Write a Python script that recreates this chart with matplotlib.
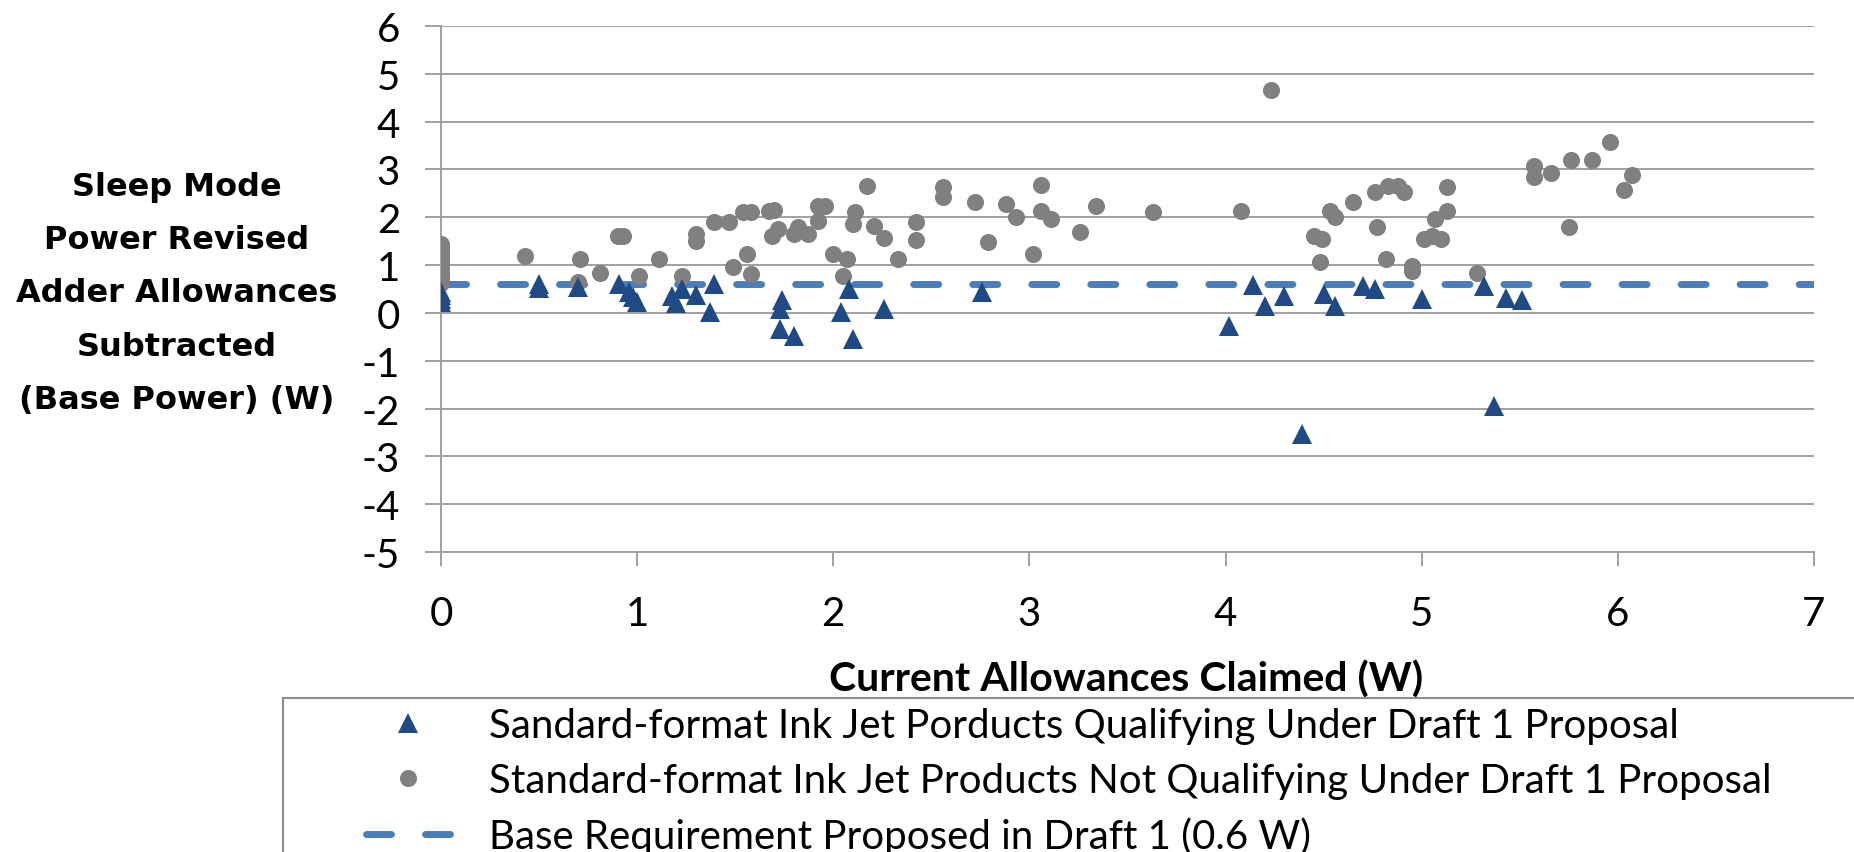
import matplotlib
matplotlib.use("Agg")
import matplotlib.pyplot as plt
from matplotlib.patches import Rectangle

# ---- data ----
qual_x = [0, 0, 0, 0, 0.50, 0.50, 0.70, 0.91, 0.96, 0.98, 1.00, 1.18, 1.20, 1.23, 1.30,
          1.39, 1.37, 1.74, 1.73, 1.73, 1.80, 2.04, 2.08, 2.10, 2.26, 2.76,
          4.02, 4.14, 4.20, 4.30, 4.39, 4.50, 4.56, 4.70, 4.76, 5.00, 5.32, 5.37, 5.43, 5.51]
qual_y = [0.22, 0.30, 0.37, 0.43, 0.60, 0.52, 0.54, 0.60, 0.43, 0.33, 0.22, 0.36, 0.20, 0.50, 0.38,
          0.60, 0.02, 0.27, 0.08, -0.33, -0.48, 0.02, 0.50, -0.54, 0.08, 0.44,
          -0.27, 0.59, 0.15, 0.35, -2.53, 0.40, 0.14, 0.57, 0.50, 0.30, 0.57, -1.94, 0.31, 0.27]

notq_x = [0, 0, 0, 0, 0, 0, 0, 0, 0, 0, 0, 0,
          0.43, 0.71, 0.70, 0.81, 0.90, 0.93, 1.01, 1.11, 1.23, 1.30, 1.30, 1.39, 1.47,
          1.54, 1.58, 1.67, 1.70, 1.69, 1.72, 1.49, 1.56, 1.58, 1.80, 1.82, 1.87, 1.92,
          1.96, 1.92, 2.11, 2.10, 2.17, 2.00, 2.07, 2.05, 2.21, 2.26, 2.33, 2.42, 2.42,
          2.56, 2.56, 2.72, 2.79, 2.88, 2.93, 3.02, 3.06, 3.06, 3.11, 3.26, 3.34, 3.63,
          4.08, 4.23, 4.45, 4.49, 4.48, 4.53, 4.56, 4.65, 4.76, 4.83, 4.88, 4.91, 4.77,
          4.82, 4.95, 4.95, 5.01, 5.05, 5.10, 5.07, 5.13, 5.13, 5.28, 5.57, 5.57, 5.66,
          5.76, 5.75, 5.87, 5.96, 6.03, 6.07]
notq_y = [1.45, 1.38, 1.30, 1.22, 1.15, 1.08, 1.00, 0.92, 0.85, 0.78, 0.70, 0.62,
          1.20, 1.13, 0.64, 0.84, 1.61, 1.61, 0.78, 1.13, 0.78, 1.50, 1.65, 1.91, 1.91,
          2.11, 2.11, 2.13, 2.15, 1.61, 1.76, 0.96, 1.23, 0.82, 1.65, 1.80, 1.65, 2.24,
          2.24, 1.93, 2.11, 1.86, 2.65, 1.23, 1.13, 0.78, 1.82, 1.56, 1.13, 1.90, 1.52,
          2.63, 2.42, 2.32, 1.48, 2.28, 2.00, 1.23, 2.68, 2.13, 1.97, 1.69, 2.24, 2.11,
          2.13, 4.67, 1.61, 1.55, 1.07, 2.13, 2.00, 2.32, 2.53, 2.65, 2.65, 2.53, 1.80,
          1.12, 0.98, 0.88, 1.55, 1.61, 1.55, 1.97, 2.14, 2.63, 0.84, 3.07, 2.84, 2.92,
          3.20, 1.80, 3.20, 3.57, 2.58, 2.89]

base_x = [0, 7]
base_y = [0.6, 0.6]

labels = ["Sandard-format Ink Jet Porducts Qualifying Under Draft 1 Proposal",
          "Standard-format Ink Jet Products Not Qualifying Under Draft 1 Proposal",
          "Base Requirement Proposed in Draft 1 (0.6 W)"]
xticks = [0, 1, 2, 3, 4, 5, 6, 7]
yticks = [-5, -4, -3, -2, -1, 0, 1, 2, 3, 4, 5, 6]
xlabel = "Current Allowances Claimed (W)"
ylabel = "Sleep Mode\nPower Revised\nAdder Allowances\nSubtracted\n(Base Power) (W)"

# ---- style ----
W, H = 1854, 853
GRID = "#a0a0a0"
TRI = "#1F4A86"
GREY = "#808080"
DASH = "#4A7EBB"
FONT = ["Lato", "DejaVu Sans"]

fig = plt.figure(figsize=(W / 100, H / 100), dpi=100)
ax = fig.add_axes([441 / W, 1 - 553 / H, (1814 - 441) / W, (553 - 27) / H])

ln_base, = ax.plot(base_x, base_y, color=DASH, lw=5, dashes=(3.6, 4.9),
                   dash_capstyle="round", solid_capstyle="round", zorder=2,
                   label=labels[2])
ln_notq, = ax.plot(notq_x, notq_y, linestyle="none", marker="o", markersize=12.3,
                   color=GREY, markeredgewidth=0, zorder=3, label=labels[1])
ln_qual, = ax.plot(qual_x, qual_y, linestyle="none", marker="^", markersize=15,
                   color=TRI, markeredgewidth=0, zorder=4, label=labels[0])

ax.set_xlim(0, 7)
ax.set_ylim(-5, 6)
ax.set_xticks(xticks)
ax.set_yticks(yticks)
ax.set_xticklabels([str(v) for v in xticks], family=FONT, fontsize=29)
ax.set_yticklabels([str(v) for v in yticks], family=FONT, fontsize=29)
ax.yaxis.grid(True, color=GRID, lw=1.4)
ax.xaxis.grid(False)
ax.set_axisbelow(True)
for s in ["top", "right"]:
    ax.spines[s].set_visible(False)
for s in ["left", "bottom"]:
    ax.spines[s].set_color(GRID)
    ax.spines[s].set_linewidth(1.4)
ax.tick_params(axis="y", direction="out", length=11.5, width=1.4, color=GRID, pad=18)
ax.tick_params(axis="x", direction="out", length=10, width=1.4, color=GRID, pad=21)

ax.set_xlabel(xlabel, family=FONT, fontweight="bold", fontsize=29.5, va="center")
ax.xaxis.set_label_coords(0.499, (553 - 680) / (553 - 27))
ax.set_ylabel(ylabel, family=["DejaVu Sans"], fontweight="bold", fontsize=23,
              rotation=0, ha="center", va="center", linespacing=1.92)
ax.yaxis.set_label_coords((177 - 441) / (1814 - 441), (553 - 294) / (553 - 27))

# legend frame (extends past figure edge as in reference)
frame = Rectangle((283 / W, -0.2), 1.2, 0.2 + (1 - 699 / H), transform=fig.transFigure,
                  fill=False, edgecolor="#8c8c8c", lw=1.5, clip_on=False)
fig.add_artist(frame)

leg = ax.legend(handles=[ln_qual, ln_notq, ln_base], labels=labels,
                loc="upper left", bbox_to_anchor=(366 / W, 1 - 708 / H),
                bbox_transform=fig.transFigure, frameon=False, borderpad=0,
                borderaxespad=0, handlelength=2.1, handletextpad=0.95,
                labelspacing=0.44, prop={"family": FONT, "size": 29})

fig.savefig("out.png", dpi=100)
